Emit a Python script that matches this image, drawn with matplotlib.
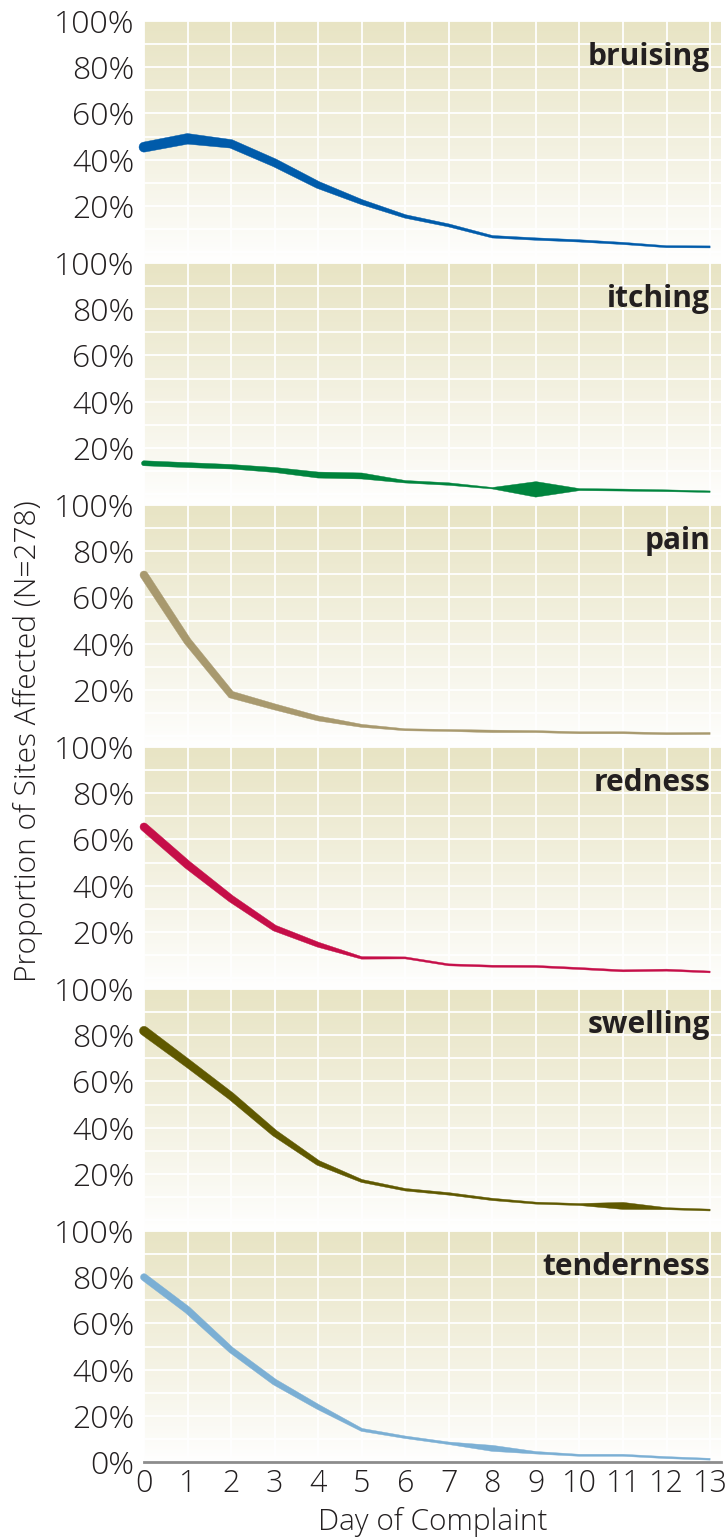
import numpy as np
import matplotlib
matplotlib.use("Agg")
import matplotlib.pyplot as plt
from matplotlib.patches import Polygon

plt.rcParams['font.family'] = ['Open Sans', 'DejaVu Sans']

days = list(range(14))
symptoms = ["bruising", "itching", "pain", "redness", "swelling", "tenderness"]
colors = ["#005BAA", "#00843D", "#A8996E", "#C50E48", "#5F5800", "#7BAFD4"]

bruising_vals = [45.4, 49.0, 46.8, 38.6, 29.0, 21.6, 15.4, 11.5, 6.6, 5.6, 4.8, 3.7, 2.3, 2.2]
itching_vals = [13.3, 12.5, 11.8, 10.4, 8.2, 7.8, 5.3, 4.3, 2.5, 2.0, 1.9, 1.7, 1.4, 1.0]
pain_vals = [69.7, 41.0, 17.9, 12.6, 7.6, 4.4, 2.7, 2.4, 2.0, 1.9, 1.4, 1.4, 1.0, 1.1]
redness_vals = [65.4, 49.0, 34.3, 21.6, 14.4, 8.7, 8.7, 5.7, 5.1, 5.0, 4.1, 3.1, 3.4, 2.6]
swelling_vals = [81.9, 67.9, 53.6, 37.6, 24.7, 16.9, 13.1, 11.3, 8.9, 7.3, 6.7, 6.1, 4.9, 4.3]
tenderness_vals = [80.0, 65.8, 48.5, 34.6, 23.8, 13.9, 10.7, 8.1, 5.9, 4.0, 2.9, 2.9, 1.9, 1.2]

# stroke thickness (pixels) at each day
bruising_w = [10, 10.5, 8.5, 8, 7, 5, 3.5, 3, 2.5, 2.4, 2.3, 2.2, 2, 2]
itching_w = [5, 5, 4.5, 5, 6, 6, 2.5, 2.5, 1.5, 15.5, 2, 2, 1.8, 1.5]
pain_w = [8, 7.5, 7, 6, 5, 3, 2, 2, 2.5, 2, 2, 2, 2, 2]
redness_w = [8, 8, 7, 6, 5, 2.5, 2, 2, 2, 2, 2, 2, 2, 1.8]
swelling_w = [9, 8, 7.5, 6.5, 5, 3, 2.5, 2.5, 2.3, 2, 2, 7, 2, 1.8]
tenderness_w = [7, 7, 6, 6, 5, 3, 2.5, 2.5, 6, 2.5, 2, 2, 2, 1.8]

series_vals = [bruising_vals, itching_vals, pain_vals, redness_vals, swelling_vals, tenderness_vals]
series_w = [bruising_w, itching_w, pain_w, redness_w, swelling_w, tenderness_w]

ytick_vals = [0, 20, 40, 60, 80, 100]

W, H = 728, 1540
fig = plt.figure(figsize=(W / 100, H / 100), dpi=100)

left_px, right_px = 144, 721
top0, pitch, full = 21, 242, 231
text_color = "#231F20"

top_col = np.array([232, 228, 196]) / 255.0


def variable_line(ax, x, y, widths, color):
    pts = ax.transData.transform(np.column_stack([x, y]))
    w = np.asarray(widths, float) * fig.dpi / 100.0
    n = len(pts)
    seg = np.diff(pts, axis=0)
    seg_len = np.hypot(seg[:, 0], seg[:, 1])
    normals = np.column_stack([-seg[:, 1], seg[:, 0]]) / seg_len[:, None]
    offs = []
    for i in range(n):
        if i == 0:
            m = normals[0]
            L = 1.0
        elif i == n - 1:
            m = normals[-1]
            L = 1.0
        else:
            m = normals[i - 1] + normals[i]
            m = m / np.hypot(*m)
            L = 1.0 / max(np.dot(m, normals[i]), 0.5)
        offs.append(m * L * w[i] / 2.0)
    offs = np.array(offs)
    upper = pts + offs
    lower = pts - offs
    # rounded start cap
    d0 = seg[0] / seg_len[0]
    ang = np.linspace(np.pi / 2, 3 * np.pi / 2, 12)
    r0 = w[0] / 2.0
    n0 = normals[0]
    cap = np.array([pts[0] + r0 * (np.cos(a) * d0 + np.sin(a) * n0) for a in ang])
    poly_px = np.vstack([upper, lower[::-1], cap[::-1][1:-1]])
    poly = ax.transData.inverted().transform(poly_px)
    ax.add_patch(Polygon(poly, closed=True, facecolor=color, edgecolor=color,
                         linewidth=0.3, zorder=3, clip_on=False))


for k, name in enumerate(symptoms):
    top = top0 + pitch * k
    last = (k == len(symptoms) - 1)
    if last:
        bottom = top + full
        ymin = 0.0
    else:
        bottom = top + pitch
        ymin = 1.0 - pitch / full
    ax = fig.add_axes([left_px / W, 1 - bottom / H, (right_px - left_px) / W, (bottom - top) / H])
    ax.set_xlim(0, 13.25)
    ax.set_ylim(ymin * 100, 100)

    # gradient background
    t = np.linspace(0, 1, 256)[:, None]  # 0 bottom -> 1 top
    g = t ** 0.9
    img = (1 - g)[..., None] * np.ones(3) + g[..., None] * top_col
    img = np.repeat(img, 2, axis=1)
    ax.imshow(img, extent=[0, 13.25, ymin * 100, 100], origin='lower',
              aspect='auto', zorder=0, interpolation='bilinear')

    ax.set_xticks(days)
    ax.grid(True, which='major', color='white', linewidth=1.3)
    ax.set_axisbelow(True)

    yt = [v for v in ytick_vals if (v > 0 or last)]
    ax.set_yticks(np.arange(0, 101, 10))
    ax.set_yticklabels(["%d%%" % v if (v in yt) else "" for v in range(0, 101, 10)],
                       fontweight='light')
    ax.tick_params(axis='y', length=0, pad=7, labelsize=23, labelcolor=text_color)
    if last:
        ax.set_xticklabels([str(d) for d in days], fontweight='light')
        ax.tick_params(axis='x', length=0, pad=4, labelsize=22, labelcolor=text_color)
    else:
        ax.tick_params(axis='x', length=0, labelbottom=False)

    for s in ax.spines.values():
        s.set_visible(False)
    if last:
        ax.spines['bottom'].set_visible(True)
        ax.spines['bottom'].set_color('#8C8C8C')
        ax.spines['bottom'].set_linewidth(2)

    variable_line(ax, days, series_vals[k], series_w[k], colors[k])

    ax.text(13.0, 100 - 44 / full * 100, name, ha='right', va='baseline',
            fontsize=21.5, fontweight='bold', color=text_color, zorder=5)

fig.text(432.5 / W, 1 - 1522 / H, "Day of Complaint", ha='center', va='center',
         fontsize=21.5, fontweight='light', color=text_color)
fig.text(28 / W, 1 - 741 / H, "Proportion of Sites Affected (N=278)", ha='center',
         va='center', rotation=90, fontsize=21.5, fontweight='light', color=text_color)

fig.savefig("out.png", dpi=100)
